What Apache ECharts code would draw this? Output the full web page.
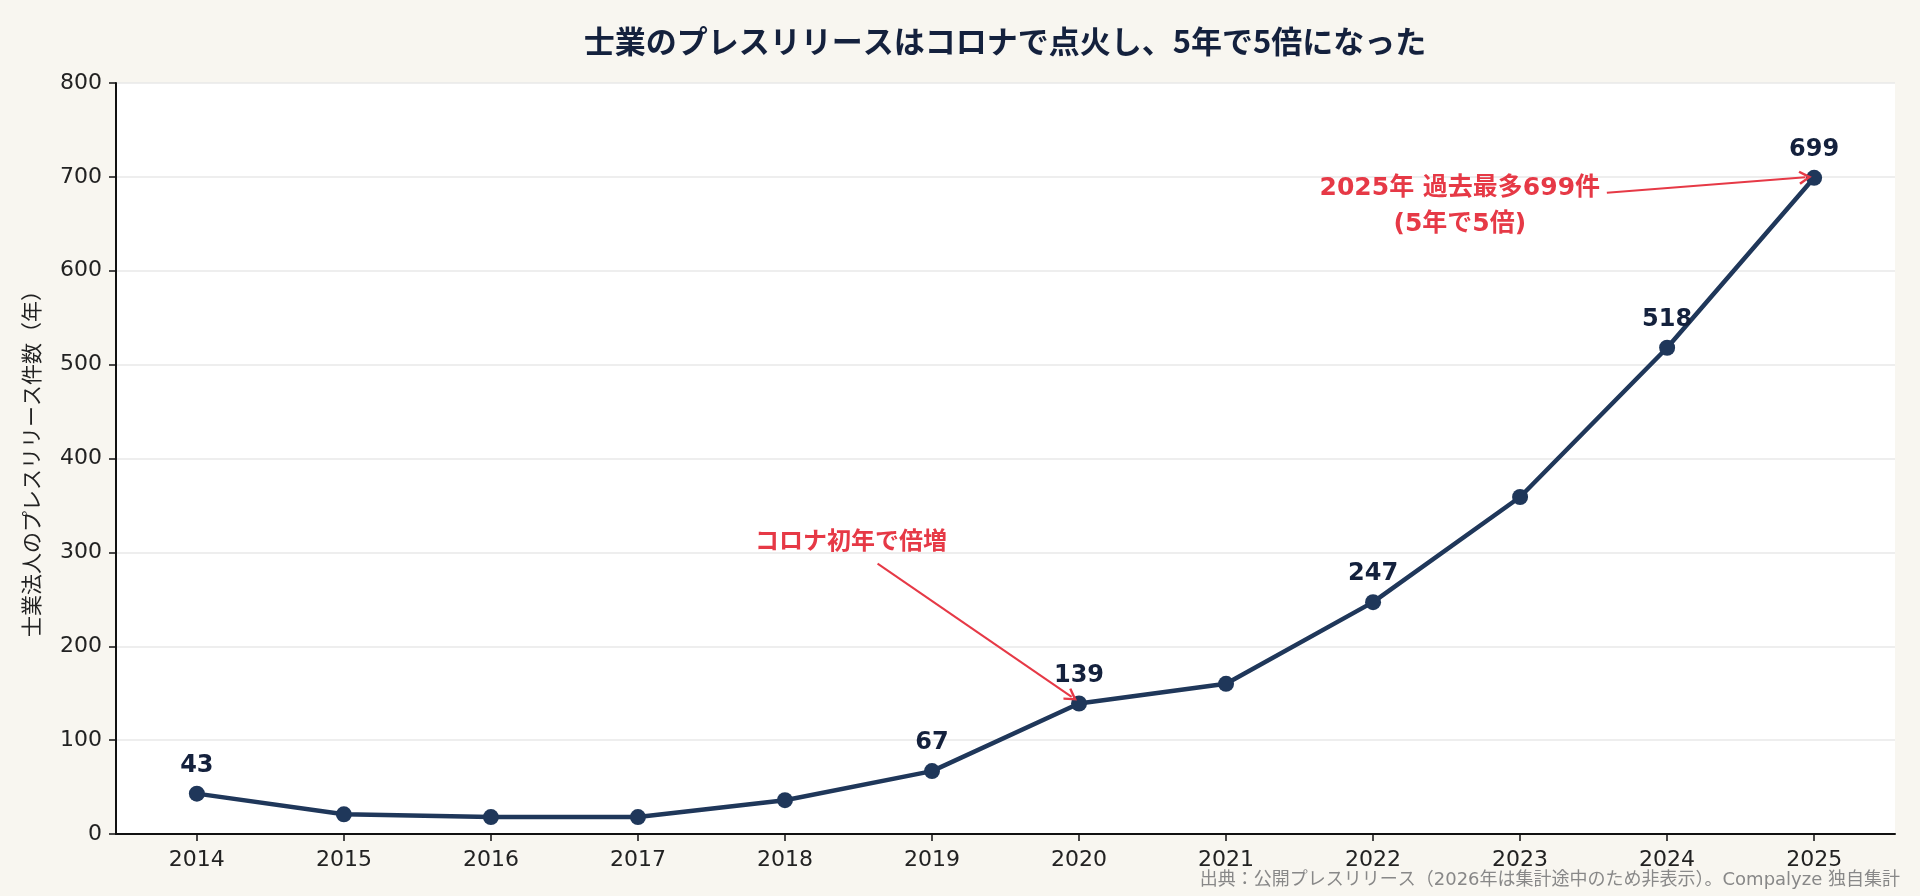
<!DOCTYPE html>
<html>
<head>
<meta charset="utf-8">
<script src="https://cdn.jsdelivr.net/npm/echarts@6/dist/echarts.min.js"></script>
<style>
html, body { margin: 0; padding: 0; background: #f8f6f0; }
#container { width: 1920px; height: 896px; }
</style>
</head>
<body>
<div id="container"></div>
<script>
var dom = document.getElementById('container');
var myChart = echarts.init(dom, null, { renderer: 'canvas' });

// data
var years = [2014, 2015, 2016, 2017, 2018, 2019, 2020, 2021, 2022, 2023, 2024, 2025];
var counts = [43, 21, 18, 18, 36, 67, 139, 160, 247, 359, 518, 699];
var labeledYears = [2014, 2019, 2020, 2022, 2024, 2025];

// annotations (data coords)
var noteTexts = ['コロナ初年で倍増', '2025年 過去最多699件\n(5年で5倍)'];
var noteAt = [[2018.45, 310], [2022.59, 668]];
var arrowFrom = [[2018.63, 288], [2023.59, 683]];
var arrowTo = [[2019.95, 146], [2024.94, 699.5]];

var navy = '#1f375a';
var red = '#e63946';
var fontJP = '"Noto Sans CJK JP", "Noto Sans", sans-serif';
var fontNum = '"DejaVu Sans", "Noto Sans CJK JP", sans-serif';

var seriesData = [];
for (var i = 0; i < years.length; i++) {
    seriesData.push({
        value: [years[i], counts[i]],
        label: { show: labeledYears.indexOf(years[i]) >= 0 }
    });
}

var markLines = [];
var markPoints = [];
for (var j = 0; j < noteTexts.length; j++) {
    markLines.push([{ coord: arrowFrom[j] }, { coord: arrowTo[j] }]);
    markPoints.push({ coord: noteAt[j], value: noteTexts[j], label: { fontSize: j === 0 ? 24 : 25 } });
}

var option = {
    backgroundColor: '#f8f6f0',
    textStyle: { fontFamily: fontJP },
    graphic: [
        {
            type: 'text',
            x: 1005,
            y: 41,
            style: {
                text: '士業のプレスリリースはコロナで点火し、5年で5倍になった',
                align: 'center',
                verticalAlign: 'middle',
                font: 'bold 31px ' + fontJP,
                fill: '#14213d'
            }
        },
        {
            type: 'text',
            right: 20,
            top: 871,
            style: {
                text: '出典：公開プレスリリース（2026年は集計途中のため非表示）。Compalyze 独自集計',
                font: '18px "DejaVu Sans", "Noto Sans CJK JP", sans-serif',
                fill: '#888'
            }
        }
    ],
    grid: {
        left: 116, right: 25, top: 83, bottom: 62,
        show: true, backgroundColor: '#ffffff', borderWidth: 0
    },
    xAxis: {
        type: 'value',
        min: 2013.45,
        max: 2025.55,
        splitLine: { show: false },
        axisLine: { show: true, lineStyle: { color: '#111', width: 2 } },
        axisTick: { show: true, length: 7, lineStyle: { color: '#111', width: 1.5 }, customValues: years },
        axisLabel: {
            fontSize: 22, color: '#222', margin: 15, fontFamily: fontNum,
            customValues: years, formatter: function (v) { return String(v); }
        }
    },
    yAxis: {
        type: 'value',
        min: 0,
        max: 800,
        interval: 100,
        name: '士業法人のプレスリリース件数（年）',
        nameLocation: 'middle',
        nameGap: 74,
        nameTextStyle: { fontSize: 21, color: '#222' },
        axisLine: { show: true, lineStyle: { color: '#111', width: 2 } },
        axisTick: { show: true, length: 7, lineStyle: { color: '#111', width: 1.5 } },
        axisLabel: { fontSize: 22, color: '#222', margin: 14, fontFamily: fontNum },
        splitLine: { show: true, lineStyle: { color: '#e8e8e8', width: 1.5 } }
    },
    series: [
        {
            type: 'line',
            data: seriesData,
            symbol: 'circle',
            symbolSize: 16,
            lineStyle: { color: navy, width: 4.5 },
            itemStyle: { color: navy },
            label: {
                position: 'top',
                distance: 8,
                fontSize: 24,
                fontWeight: 'bold',
                fontFamily: fontNum,
                color: '#14213d',
                formatter: function (p) { return p.value[1]; }
            },
            markLine: {
                silent: true,
                symbol: ['none', 'path://M5,0 L10,8.5 L8.6,9.5 L5,3.4 L1.4,9.5 L0,8.5 Z'],
                symbolSize: [14, 13],
                lineStyle: { color: red, width: 2, type: 'solid' },
                label: { show: false },
                animation: false,
                data: markLines
            },
            markPoint: {
                silent: true,
                symbol: 'circle',
                symbolSize: 0,
                label: {
                    show: true,
                    position: 'inside',
                    fontWeight: 'bold',
                    fontFamily: fontNum,
                    color: red,
                    align: 'center',
                    lineHeight: 36,
                    formatter: function (p) { return p.value; }
                },
                data: markPoints
            }
        }
    ],
    animation: false
};

myChart.setOption(option);
window.addEventListener('resize', myChart.resize);
</script>
</body>
</html>
